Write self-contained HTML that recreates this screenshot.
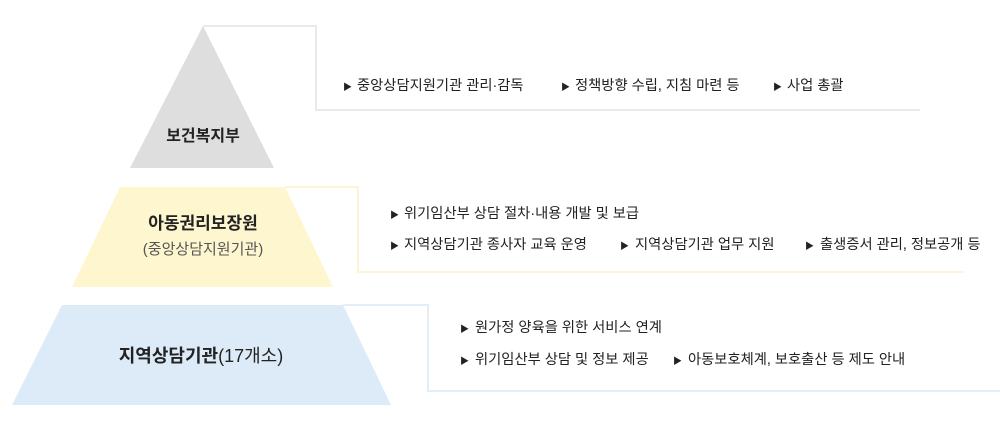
<!DOCTYPE html>
<html><head><meta charset="utf-8"><style>
html,body{margin:0;padding:0;background:#fff;}
svg text{font-family:"Liberation Sans","Noto Sans CJK KR",sans-serif;}
</style></head><body>
<svg width="1000" height="430" viewBox="0 0 1000 430" xmlns="http://www.w3.org/2000/svg">
<polygon points="203,26 274,168 130,168" fill="#dedede"/>
<polyline points="203,26 316,26 316,110 920,110" fill="none" stroke="#e3e3e3" stroke-width="1.5"/>
<polygon points="120,187 285,187 333,287 72,287" fill="#fdf6cf"/>
<polyline points="285,187 358,187 358,272 964,272" fill="none" stroke="#fbf1c4" stroke-width="1.5"/>
<polygon points="62,305 343,305 391,405 12,405" fill="#dcebf7"/>
<polyline points="343,305 428,305 428,391 1000,391" fill="none" stroke="#d9e8f5" stroke-width="1.5"/>
<g font-size="14.3" fill="#222">
<text x="343" y="90" font-size="9">▶</text><text x="357" y="90">중앙상담지원기관 관리·감독</text>
<text x="561" y="90" font-size="9">▶</text><text x="575" y="90">정책방향 수립, 지침 마련 등</text>
<text x="773" y="90" font-size="9">▶</text><text x="787" y="90">사업 총괄</text>
<text x="390" y="218" font-size="9">▶</text><text x="404" y="218">위기임산부 상담 절차·내용 개발 및 보급</text>
<text x="390" y="249" font-size="9">▶</text><text x="404" y="249">지역상담기관 종사자 교육 운영</text>
<text x="620" y="249" font-size="9">▶</text><text x="635" y="249">지역상담기관 업무 지원</text>
<text x="805" y="249" font-size="9">▶</text><text x="820" y="249">출생증서 관리, 정보공개 등</text>
<text x="460" y="332" font-size="9">▶</text><text x="475" y="332">원가정 양육을 위한 서비스 연계</text>
<text x="460" y="364" font-size="9">▶</text><text x="475" y="364">위기임산부 상담 및 정보 제공</text>
<text x="673" y="364" font-size="9">▶</text><text x="688" y="364">아동보호체계, 보호출산 등 제도 안내</text>
</g>
<text x="203" y="141" font-size="16" font-weight="bold" fill="#222" text-anchor="middle">보건복지부</text>
<text x="203" y="229" font-size="17" font-weight="bold" fill="#222" text-anchor="middle">아동권리보장원</text>
<text x="203" y="254" font-size="15" fill="#555" text-anchor="middle">(중앙상담지원기관)</text>
<text x="201" y="362" font-size="18" fill="#222" text-anchor="middle"><tspan font-weight="bold">지역상담기관</tspan><tspan>(17개소)</tspan></text>
</svg>
</body></html>
